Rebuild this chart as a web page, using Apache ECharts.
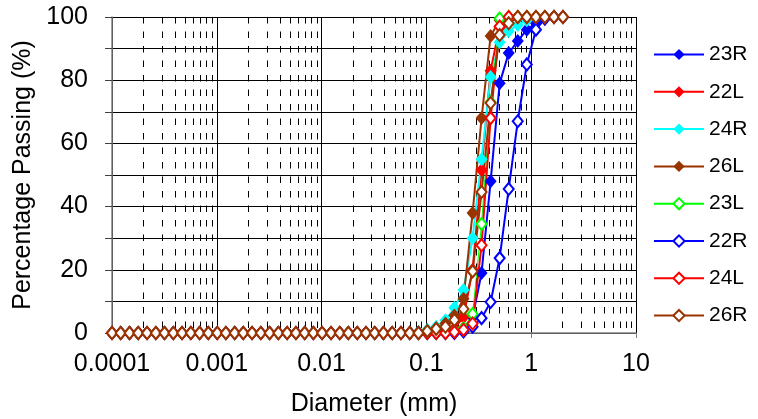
<!DOCTYPE html>
<html>
<head>
<meta charset="utf-8">
<script src="https://cdn.jsdelivr.net/npm/echarts@6/dist/echarts.min.js"></script>
<style>
  html, body { margin: 0; padding: 0; background: #fff; }
  #chart { width: 758px; height: 419px; }
</style>
</head>
<body>
<div id="chart"></div>
<script>
// particle diameter classes (mm)
const diameter = [
  0.0001, 0.000121, 0.000147, 0.000178, 0.000216, 0.000262, 0.000317, 0.000385, 0.000466, 0.000565,
  0.000685, 0.00083, 0.00101, 0.00122, 0.00148, 0.00179, 0.00217, 0.00263, 0.00319, 0.00387,
  0.00469, 0.00569, 0.00689, 0.00835, 0.0101, 0.0123, 0.0149, 0.018, 0.0219, 0.0265,
  0.0321, 0.0389, 0.0472, 0.0572, 0.0693, 0.084,
  0.102, 0.124, 0.152, 0.185, 0.226, 0.276, 0.336, 0.41, 0.5, 0.61, 0.744, 0.908, 1.11, 1.35, 1.65, 2.01
];

// percentage passing per sample
const p23R = [
  0, 0, 0, 0, 0, 0, 0, 0, 0, 0, 0, 0, 0, 0, 0, 0, 0, 0,
  0, 0, 0, 0, 0, 0, 0, 0, 0, 0, 0, 0, 0, 0, 0, 0, 0, 0,
  0, 0, 0, 0.5, 1.5, 5, 19, 48, 79, 88.6, 92.4, 96, 98, 99.5, 100, 100
];
const p22L = [
  0, 0, 0, 0, 0, 0, 0, 0, 0, 0, 0, 0, 0, 0, 0, 0, 0, 0,
  0, 0, 0, 0, 0, 0, 0, 0, 0, 0, 0, 0, 0, 0, 0, 0, 0, 0,
  0, 0, 0.5, 1.5, 5, 20, 51.6, 83, 97, 99.5, 100, 100, 100, 100, 100, 100
];
const p24R = [
  0, 0, 0, 0, 0, 0, 0, 0, 0, 0, 0, 0, 0, 0, 0, 0, 0, 0,
  0, 0, 0, 0, 0, 0, 0, 0, 0, 0, 0, 0, 0, 0, 0, 0, 0, 0.3,
  1, 2, 4, 8, 13.6, 30, 55, 81, 92, 95.6, 97.5, 99, 100, 100, 100, 100
];
const p26L = [
  0, 0, 0, 0, 0, 0, 0, 0, 0, 0, 0, 0, 0, 0, 0, 0, 0, 0,
  0, 0, 0, 0, 0, 0, 0, 0, 0, 0, 0, 0, 0, 0, 0, 0, 0, 0,
  0.5, 1.5, 3, 5.5, 10.8, 38, 68, 94, 99, 100, 100, 100, 100, 100, 100, 100
];
const p23L = [
  0, 0, 0, 0, 0, 0, 0, 0, 0, 0, 0, 0, 0, 0, 0, 0, 0, 0,
  0, 0, 0, 0, 0, 0, 0, 0, 0, 0, 0, 0, 0, 0, 0, 0, 0, 0,
  0, 0, 0, 0.3, 1.5, 6, 34.5, 73, 99.5, 100, 100, 100, 100, 100, 100, 100
];
const p22R = [
  0, 0, 0, 0, 0, 0, 0, 0, 0, 0, 0, 0, 0, 0, 0, 0, 0, 0,
  0, 0, 0, 0, 0, 0, 0, 0, 0, 0, 0, 0, 0, 0, 0, 0, 0, 0,
  0, 0, 0, 0, 0.5, 2, 4.7, 9.8, 23.7, 45.6, 67, 85, 96, 99.5, 100, 100
];
const p24L = [
  0, 0, 0, 0, 0, 0, 0, 0, 0, 0, 0, 0, 0, 0, 0, 0, 0, 0,
  0, 0, 0, 0, 0, 0, 0, 0, 0, 0, 0, 0, 0, 0, 0, 0, 0, 0,
  0, 0, 0, 0.3, 1, 3, 27.8, 68, 97, 100, 100, 100, 100, 100, 100, 100
];
const p26R = [
  0, 0, 0, 0, 0, 0, 0, 0, 0, 0, 0, 0, 0, 0, 0, 0, 0, 0,
  0, 0, 0, 0, 0, 0, 0, 0, 0, 0, 0, 0, 0, 0, 0, 0, 0, 0,
  0.6, 1.3, 2, 4.1, 7.6, 19.5, 44.6, 72.8, 94.3, 98, 100, 100, 100, 100, 100, 100
];

const xTickLabels = ['0.0001', '0.001', '0.01', '0.1', '1', '10'];
const decades = [0.0001, 0.001, 0.01, 0.1, 1];
const minorSteps = [2, 3, 4, 5, 6, 7, 8, 9];

const FONT = '"Liberation Sans", Arial, sans-serif';

const samples = [
  { name: '23R', values: p23R, color: '#0000ff', open: false, width: 2 },
  { name: '22L', values: p22L, color: '#ff0000', open: false, width: 2 },
  { name: '24R', values: p24R, color: '#00ffff', open: false, width: 2 },
  { name: '26L', values: p26L, color: '#993300', open: false, width: 2 },
  { name: '23L', values: p23L, color: '#00ff00', open: true, width: 1 },
  { name: '22R', values: p22R, color: '#0000ff', open: true, width: 2 },
  { name: '24L', values: p24L, color: '#ff0000', open: true, width: 2 },
  { name: '26R', values: p26R, color: '#993300', open: true, width: 2 }
];

// dashed minor grid lines at 2..9 x each decade
const minorLines = [];
decades.forEach(d => {
  minorSteps.forEach(m => {
    minorLines.push([{ coord: [d * m, 100] }, { coord: [d * m, 0] }]);
  });
});

const series = samples.map((s, idx) => {
  const item = {
    name: s.name,
    type: 'line',
    data: diameter.map((d, i) => [d, s.values[i]]),
    symbol: 'diamond',
    symbolSize: s.open ? [10, 12] : [12, 14],
    clip: false,
    lineStyle: { color: s.color, width: s.width },
    itemStyle: s.open
      ? { color: '#ffffff', borderColor: s.color, borderWidth: 2 }
      : { color: s.color, borderColor: s.color, borderWidth: 0 },
    emphasis: { disabled: true }
  };
  if (idx === 0) {
    item.markLine = {
      silent: true,
      z: 1,
      symbol: ['none', 'none'],
      label: { show: false },
      lineStyle: { color: '#000', width: 1, type: [6.5, 8] },
      emphasis: { disabled: true },
      data: minorLines
    };
  }
  return item;
});

const chart = echarts.init(document.getElementById('chart'));
chart.setOption({
  animation: false,
  backgroundColor: '#fff',
  textStyle: { fontFamily: FONT },
  grid: { left: 112, right: 122, top: 17, bottom: 86, containLabel: false, outerBoundsMode: 'none' },
  legend: {
    orient: 'vertical',
    left: 653,
    top: 44,
    padding: 0,
    itemWidth: 50,
    itemHeight: 14,
    itemGap: 16.3,
    selectedMode: false,
    data: samples.map(s => s.name),
    textStyle: { fontFamily: FONT, fontSize: 21, color: '#000', padding: [0, 0, 0, 0] }
  },
  xAxis: {
    type: 'log',
    logBase: 10,
    min: 0.0001,
    max: 10,
    splitNumber: 5,
    name: 'Diameter (mm)',
    nameLocation: 'middle',
    nameGap: 59,
    nameTextStyle: { fontFamily: FONT, fontSize: 25, color: '#000' },
    axisLine: { show: true, onZero: false, lineStyle: { color: '#808080', width: 1.5 } },
    axisTick: { show: true, length: 5, lineStyle: { color: '#808080' } },
    axisLabel: {
      fontFamily: FONT, fontSize: 25, color: '#000', margin: 19,
      formatter: (v, i) => xTickLabels[i]
    },
    splitLine: { show: true, lineStyle: { color: '#000', width: 1 } }
  },
  yAxis: {
    type: 'value',
    min: 0,
    max: 100,
    interval: 10,
    name: 'Percentage Passing (%)',
    nameLocation: 'middle',
    nameGap: 71,
    nameTextStyle: { fontFamily: FONT, fontSize: 25, color: '#000' },
    axisLine: { show: true, lineStyle: { color: '#808080', width: 1.5 } },
    axisTick: { show: true, length: 7, lineStyle: { color: '#404040' } },
    axisLabel: {
      fontFamily: FONT, fontSize: 25, color: '#000', margin: 24,
      formatter: v => (v % 20 === 0 ? String(v) : '')
    },
    splitLine: { show: true, lineStyle: { color: '#000', width: 1 } }
  },
  series
});
</script>
</body>
</html>
